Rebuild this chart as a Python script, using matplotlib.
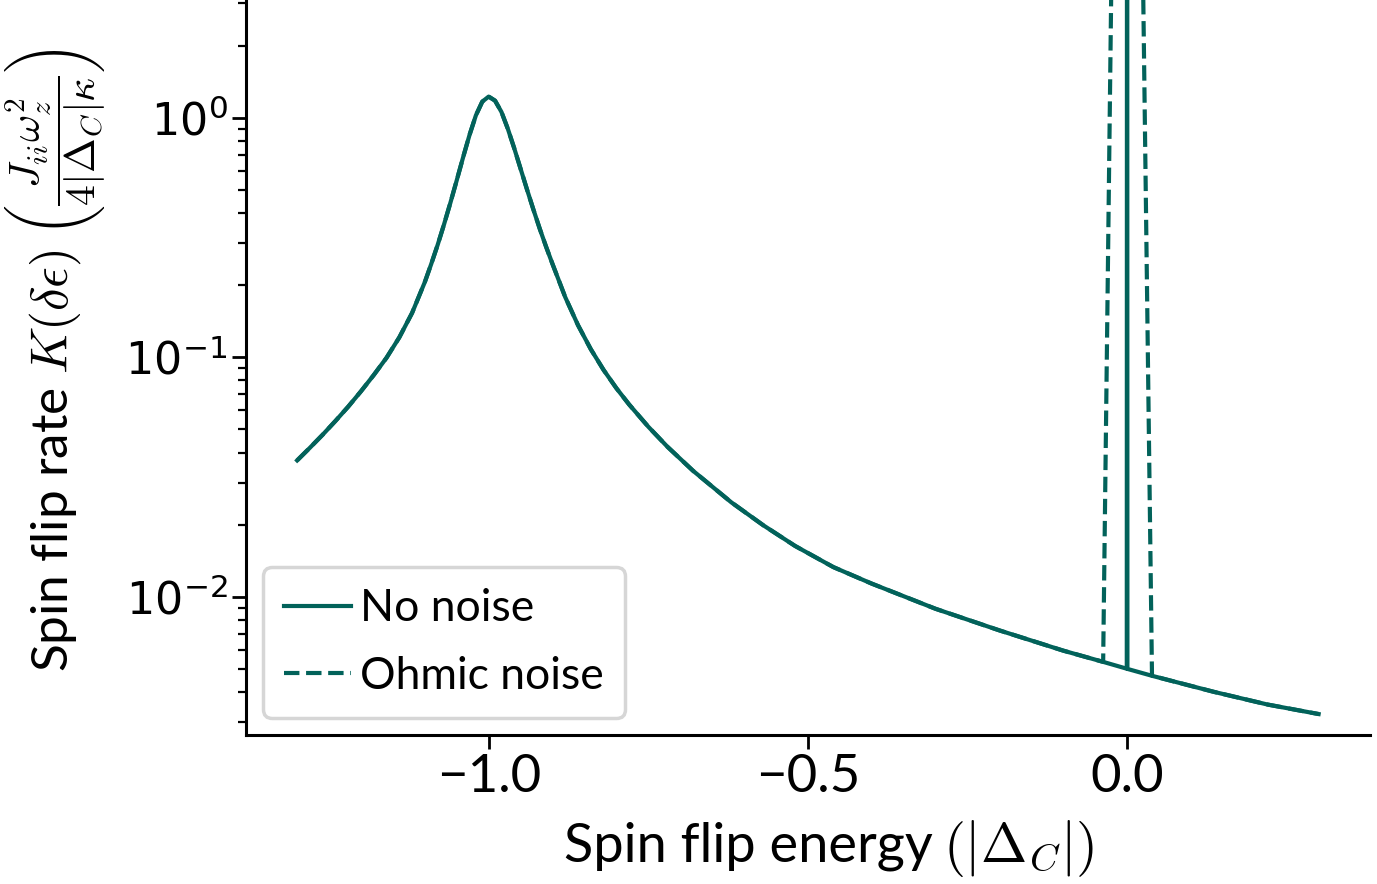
import numpy as np
import matplotlib
matplotlib.use('Agg')
import matplotlib.pyplot as plt

plt.rcParams['font.family'] = ['Lato', 'DejaVu Sans']
plt.rcParams['mathtext.fontset'] = 'cm'

# spin flip energy (|Delta_C|) and rate
energy = [-1.30, -1.28, -1.26, -1.24, -1.22, -1.20, -1.18, -1.16, -1.14, -1.12,
          -1.10, -1.09, -1.08, -1.07, -1.06, -1.05, -1.04, -1.03, -1.02, -1.01,
          -1.00, -0.99, -0.98, -0.97, -0.96, -0.95, -0.94, -0.93, -0.92, -0.91,
          -0.90, -0.88, -0.86, -0.84, -0.82, -0.80, -0.78, -0.75, -0.72, -0.68,
          -0.62, -0.57, -0.52, -0.46, -0.40, -0.30, -0.20, -0.10, -0.0375,
          -0.0005, 0.0, 0.0005, 0.039, 0.136, 0.22, 0.30]
rate_no_noise = [0.0371, 0.0419, 0.0475, 0.0542, 0.0622, 0.0721, 0.0843, 0.0995, 0.121, 0.153,
                 0.206, 0.245, 0.294, 0.358, 0.441, 0.548, 0.684, 0.847, 1.023, 1.167,
                 1.225, 1.178, 1.057, 0.899, 0.746, 0.612, 0.502, 0.414, 0.344, 0.289,
                 0.245, 0.178, 0.136, 0.108, 0.0885, 0.0743, 0.0635, 0.0513, 0.0423, 0.0336,
                 0.0248, 0.0199, 0.0163, 0.0133, 0.01135, 0.00891, 0.00724, 0.00596, 0.00535,
                 0.00501, 2000.0, 0.00500, 0.00468, 0.00401, 0.00355, 0.00324]

# Ohmic noise: identical away from zero, tall broadened peak around zero
energy_ohmic = energy[:49] + [-0.02, 0.0, 0.02] + energy[52:]
rate_ohmic = rate_no_noise[:49] + [40.0, 60.0, 40.0] + rate_no_noise[52:]

color = '#02625a'

fig = plt.figure(figsize=(13.77, 8.84), dpi=100)
ax = fig.add_axes([0.1787, 0.1686, 0.816, 0.8314])

ax.plot(energy, rate_no_noise, color=color, lw=3, label='No noise')
ax.plot(energy_ohmic, rate_ohmic, color=color, lw=3, ls='--', label='Ohmic noise')

ax.set_yscale('log')
ax.set_xlim(-1.38, 0.38)
ax.set_ylim(0.00265, 3.1)
ax.set_xticks([-1.0, -0.5, 0.0])
ax.set_yticks([1e-2, 1e-1, 1e0])

for s in ['top', 'right']:
    ax.spines[s].set_visible(False)
for s in ['left', 'bottom']:
    ax.spines[s].set_linewidth(2.2)

ax.tick_params(which='major', length=10, width=2, labelsize=38)
ax.tick_params(which='minor', length=6, width=1.6)
for lab in ax.get_yticklabels():
    lab.set_fontfamily('DejaVu Sans')
    lab.set_fontsize(32)

# axis labels: plain text and the unit part set at different sizes
fig.text(0.4096, 0.0249, 'Spin flip energy', fontsize=39, ha='left', va='baseline')
fig.text(0.6850, 0.0249, r'$\left(|\Delta_C|\right)$', fontsize=40, ha='left', va='baseline')

fig.text(0.0494, 0.2398, r'Spin flip rate $K(\delta\epsilon)$', fontsize=37, rotation=90,
         rotation_mode='anchor', ha='left', va='baseline')
fig.text(0.0494, 0.7330, r'$\left(\dfrac{J_{ii}\omega_z^2}{4|\Delta_C|\kappa}\right)$', fontsize=30,
         rotation=90, rotation_mode='anchor', ha='left', va='baseline')

leg = ax.legend(loc='lower left', fontsize=32, handlelength=1.5, handletextpad=0.2,
                borderpad=0.48, labelspacing=0.6, borderaxespad=0.38)
leg.get_frame().set_linewidth(2.5)

fig.savefig('out.png', dpi=100)
